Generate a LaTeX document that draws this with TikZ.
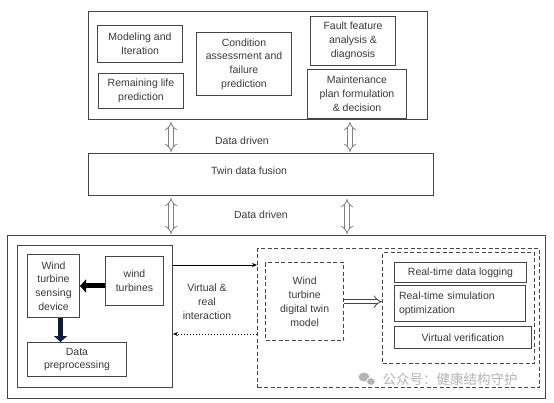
\documentclass[tikz,border=0pt]{standalone}
\usepackage{fontspec}
\setmainfont{Liberation Sans}
\newfontfamily\cjkwm{Noto Sans CJK SC}
\usetikzlibrary{arrows.meta,calc}
\definecolor{lc}{HTML}{454545}
\definecolor{txt}{HTML}{3A3A3A}
\definecolor{wm}{HTML}{B4B4B4}
\tikzset{
  every node/.style={font=\fontsize{10.5}{13.8}\selectfont, text=txt},
  box/.style={draw=lc, line width=1pt, align=center, inner sep=0pt, anchor=north west},
  dbox/.style={draw=lc, line width=1.3pt, dash pattern=on 4pt off 2.5pt, align=center, inner sep=0pt, anchor=north west},
  hollow/.style={draw=gray, line width=0.8pt, double=white, double distance=3.6pt, {Implies[]}-{Implies[]}},
  hollowone/.style={draw=lc, line width=0.8pt, double=white, double distance=3.6pt, -{Implies[]}},
  fat/.style={draw=black, line width=5pt, -{Triangle[length=6pt,width=13pt]}},
  thin/.style={draw=black, line width=0.7pt, -{Stealth[length=5pt,width=4pt]}},
  dotarrow/.style={draw=black, line width=0.7pt, dash pattern=on 1.5pt off 1.5pt, -{Stealth[length=5pt,width=4pt]}},
}
\begin{document}
\begin{tikzpicture}[x=1pt,y=-1pt]
\useasboundingbox (0,0) rectangle (554,403);
\fill[white] (0,0) rectangle (554,403);

% top block
\node[box, minimum width=339pt, minimum height=108pt] (top) at (88,11) {};
\node[box, minimum width=85pt, minimum height=37pt] (model) at (97,25) {Modeling and\\Iteration};
\node[box, minimum width=85pt, minimum height=35pt] (remain) at (98,73) {Remaining life\\prediction};
\node[box, minimum width=95pt, minimum height=63pt] (cond) at (196,32) {Condition\\assessment and\\failure\\prediction};
\node[box, minimum width=85pt, minimum height=49pt] (fault) at (310,16) {Fault feature\\analysis \&\\diagnosis};
\node[box, minimum width=99pt, minimum height=49pt] (maint) at (307,69) {Maintenance\\plan formulation\\\& decision};

% fusion
\node[box, minimum width=345pt, minimum height=42pt] (twin) at (88,153) {};
\node (twintxt) at (249,171) {Twin data fusion};
\node (dd1) at (242,141) {Data driven};
\node (dd2) at (261,215) {Data driven};

\coordinate (ca) at (171,0);
\coordinate (cb) at (350,0);
\coordinate (cc) at (347,0);
\draw[hollow] (top.south -| ca) ++(0,2) -- ($(twin.north -| ca)+(0,-1)$);
\draw[hollow] (top.south -| cb) ++(0,2) -- ($(twin.north -| cb)+(0,-1)$);

% lower block
\node[box, minimum width=538pt, minimum height=163pt] (low) at (7,235) {};
\draw[hollow] (twin.south -| ca) ++(0,2) -- ($(low.north -| ca)+(0,-1)$);
\draw[hollow] (twin.south -| cc) ++(0,3) -- ($(low.north -| cc)+(0,-1)$);

\node[box, minimum width=155pt, minimum height=142pt] (phys) at (17,245) {};
\node[box, minimum width=52pt, minimum height=63pt] (sens) at (27,254) {Wind\\turbine\\sensing\\device};
\node[box, minimum width=58pt, minimum height=49pt] (turb) at (105,256) {wind\\turbines};
\node[box, minimum width=99pt, minimum height=34pt] (prep) at (27,342) {Data\\preprocessing};
\draw[fat] ([yshift=-5pt]turb.west) -- ([yshift=-5pt]turb.west -| sens.east);
\draw[fat, draw={rgb,255:red,15;green,25;blue,60}] ([xshift=7pt]sens.south) -- ([xshift=7pt]sens.south |- prep.north);

% virtual block
\node[dbox, minimum width=282pt, minimum height=139pt] (vir) at (257,248) {};
\node[dbox, minimum width=78pt, minimum height=78pt] (twm) at (265,262) {Wind\\turbine\\digital twin\\model};
\node[dbox, minimum width=152pt, minimum height=111pt] (grp) at (382,252) {};
\node[box, minimum width=132pt, minimum height=20pt] (log) at (394,262) {Real-time data logging};
\node[box, minimum width=131pt, minimum height=36pt, align=left, text width=122pt, inner xsep=4.5pt] (sim) at (394,285) {Real-time simulation\\optimization};
\node[box, minimum width=137pt, minimum height=22pt] (ver) at (394,326) {Virtual verification};
\draw[hollowone] (twm.east) -- (twm.east -| grp.west);

% interaction
\draw[thin] ([yshift=-20pt]phys.north east) -- ([yshift=-20pt]phys.north east -| vir.west);
\draw[dotarrow] ([yshift=-86pt]vir.north west) -- ([yshift=-86pt]vir.north west -| phys.east);
\node[align=center] (inter) at (207,302) {Virtual \&\\real\\interaction};

% watermark
\fill[wm] (364,377) ellipse (5.5pt and 4.5pt);
\fill[wm] (371,381.5) ellipse (4.5pt and 3.8pt);
\draw[white, line width=0.8pt] (371,381.5) ellipse (4.5pt and 3.8pt);
\node[text=wm, font=\cjkwm\fontsize{13.5}{14}\selectfont, anchor=west] (wmk) at (379,379) {公众号：健康结构守护};
\end{tikzpicture}
\end{document}
